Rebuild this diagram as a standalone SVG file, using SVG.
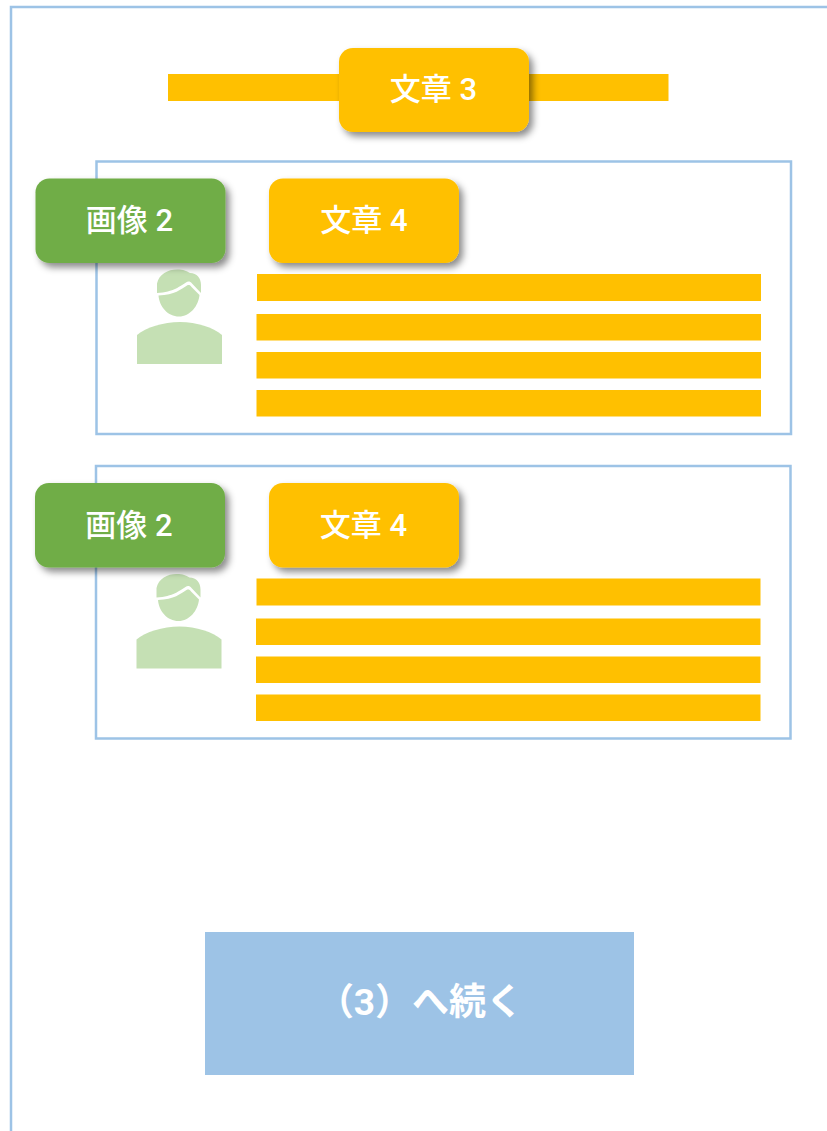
<svg xmlns="http://www.w3.org/2000/svg" width="827" height="1131" viewBox="0 0 827 1131">
<defs>
<style>
.f{fill:none;stroke:#9dc3e6;stroke-width:2.5}
.b{fill:#ffc000}
.p{fill:#c5e0b4}
.t{font-family:Roboto,"Noto Sans CJK JP","Noto Sans",sans-serif;font-size:31px;font-weight:500;fill:#fff;text-anchor:middle}
.g{fill:#70ad47}
</style>
<filter id="s" x="-15%" y="-20%" width="135%" height="150%">
<feDropShadow dx="4" dy="4.500" stdDeviation="3.500" flood-color="#000" flood-opacity="0.45"/>
</filter>
<g id="person">
<path class="p" d="M157 283.500C159 274 168 269.500 177 269.500C184 269.500 186 271 190 273C197 273 201 278 201 285V293L192 283.500C190 281 188 281 186 282.500C180 286 174 292 157 293Z"/>
<path class="p" d="M158.500 295.500C175 295 181 289 187 285.500C189 284.500 190 285 191.500 287L199.500 295C198.500 306 190 316.500 179 316.500C168 316.500 159.500 307 158.500 295.500Z"/>
<path class="p" d="M137 364V335C146 327.500 163 322 180 322C197 322 213 327.500 222 335V364Z"/>
</g>
</defs>
<rect width="827" height="1131" fill="#fff"/>
<path class="f" d="M11 1131V7H827"/>
<g id="connectors"></g>
<g id="heading">
<rect class="b" x="168" y="74" width="500.500" height="27"/>
<rect class="b" x="339" y="48" width="190" height="84" rx="14" filter="url(#s)"/>
<text class="t" x="433.500" y="100">文章 3</text>
</g>
<g id="panel1">
<rect class="f" x="96.500" y="161.500" width="694.500" height="272.500"/>
<use href="#person"/>
<rect class="b" x="257" y="274" width="504" height="27"/>
<rect class="b" x="256.500" y="314" width="504.500" height="26.500"/>
<rect class="b" x="256.500" y="352" width="504.500" height="26.500"/>
<rect class="b" x="256.500" y="390" width="504.500" height="26.500"/>
</g>
<g id="image1">
<rect class="g" x="35.500" y="178.500" width="190" height="84.500" rx="14" filter="url(#s)"/>
<text class="t" x="129.500" y="231">画像 2</text>
</g>
<g id="text1">
<rect class="b" x="269" y="178.500" width="190" height="84.500" rx="14" filter="url(#s)"/>
<text class="t" x="364" y="231">文章 4</text>
</g>
<g id="panel2">
<rect class="f" x="96" y="466" width="694.500" height="272.500"/>
<use href="#person" x="-0.500" y="304.500"/>
<rect class="b" x="256.500" y="578.500" width="504" height="27"/>
<rect class="b" x="256" y="618.500" width="504.500" height="26.500"/>
<rect class="b" x="256" y="656.500" width="504.500" height="26.500"/>
<rect class="b" x="256" y="694.500" width="504.500" height="26.500"/>
</g>
<g id="image2">
<rect class="g" x="35" y="483" width="190" height="84.500" rx="14" filter="url(#s)"/>
<text class="t" x="129" y="535.500">画像 2</text>
</g>
<g id="text2">
<rect class="b" x="269" y="483" width="190" height="84.500" rx="14" filter="url(#s)"/>
<text class="t" x="363.500" y="535.500">文章 4</text>
</g>
<g id="next">
<rect x="205" y="932" width="429" height="143" fill="#9dc3e6"/>
<text x="420" y="1015" font-family="Roboto,'Noto Sans CJK JP','Noto Sans',sans-serif" font-size="37" font-weight="700" fill="#fff" text-anchor="middle">（3）へ続く</text>
</g>
</svg>
